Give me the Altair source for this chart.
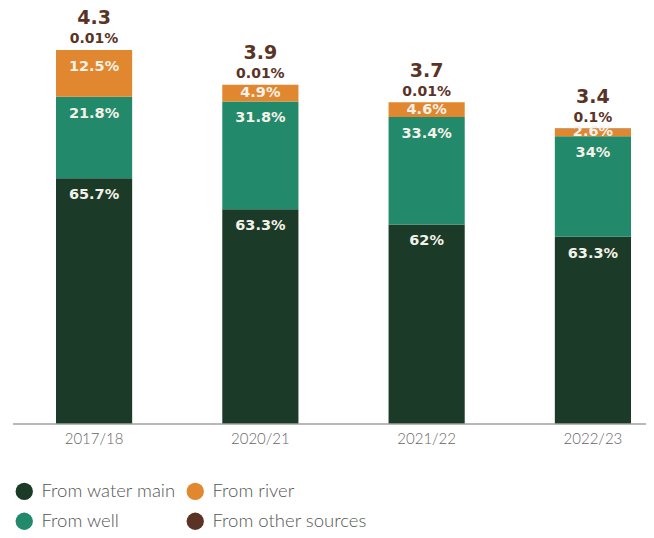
import altair as alt
import pandas as pd

years = ["2017/18", "2020/21", "2021/22", "2022/23"]
totals = [4.3, 3.9, 3.7, 3.4]
pct_water_main = [65.7, 63.3, 62, 63.3]
pct_well = [21.8, 31.8, 33.4, 34]
pct_river = [12.5, 4.9, 4.6, 2.6]
pct_other = [0.01, 0.01, 0.01, 0.1]

sources = ["From water main", "From well", "From river", "From other sources"]
color_map = {
    "From water main": "#1b3a28",
    "From well": "#23896b",
    "From river": "#e1872f",
    "From other sources": "#5b3326",
}

rows = []
for i, yr in enumerate(years):
    bottom = 0.0
    for k, (s, pcts) in enumerate(zip(sources, [pct_water_main, pct_well, pct_river, pct_other])):
        v = totals[i] * pcts[i] / 100
        rows.append(dict(year=yr, source=s, order=k, bottom=bottom, top=bottom + v,
                         label=f"{pcts[i]:g}%", total=f"{totals[i]:g}"))
        bottom += v
df = pd.DataFrame(rows)

Y_MAX = 4.7254
x_scale = alt.Scale(domain=years, range=[43, 618], paddingInner=0.542, paddingOuter=0)
y_scale = alt.Scale(domain=[0, Y_MAX], nice=False, zero=True)

base = alt.Chart(df)

bars = base.mark_bar(opacity=1).encode(
    x=alt.X("year:N", scale=x_scale, sort=years, axis=alt.Axis(title=None)),
    y=alt.Y("bottom:Q", scale=y_scale, axis=None),
    y2="top:Q",
    color=alt.Color("source:N",
                    scale=alt.Scale(domain=sources, range=[color_map[s] for s in sources]),
                    legend=alt.Legend(orient="none", legendX=2, legendY=469, columns=2,
                                      title=None, symbolType="circle", symbolSize=300,
                                      symbolStrokeWidth=0, symbolOpacity=1,
                                      labelFont="Lato", labelFontSize=18.5, labelFontWeight=300,
                                      labelColor="#555555", labelOffset=8,
                                      columnPadding=10, rowPadding=11, padding=0)),
    order="order:Q",
)

inner = base.transform_filter(
    "datum.source != 'From other sources'"
).transform_calculate(
    ly="max(datum.top - 0.195, (datum.top + datum.bottom) / 2)"
).mark_text(font="DejaVu Sans", fontWeight="bold", fontSize=14.5, color="#f4f1e8",
            baseline="middle", align="center").encode(
    x=alt.X("year:N", scale=x_scale, sort=years, axis=alt.Axis(title=None)),
    y=alt.Y("ly:Q", scale=y_scale, axis=None),
    text="label:N",
)

other = base.transform_filter("datum.source == 'From other sources'")

other_lbl = other.mark_text(font="DejaVu Sans", fontWeight="bold", fontSize=14,
                            color="#5b3326", baseline="middle", align="center", dy=-10.5).encode(
    x=alt.X("year:N", scale=x_scale, sort=years, axis=alt.Axis(title=None)),
    y=alt.Y("top:Q", scale=y_scale, axis=None),
    text="label:N",
)

total_lbl = other.mark_text(font="DejaVu Sans", fontWeight="bold", fontSize=19,
                            color="#5b3326", baseline="middle", align="center", dy=-31.5).encode(
    x=alt.X("year:N", scale=x_scale, sort=years, axis=alt.Axis(title=None)),
    y=alt.Y("top:Q", scale=y_scale, axis=None),
    text="total:N",
)

baseline_rule = alt.Chart(pd.DataFrame({"v": [0]})).mark_rule(color="#a0a0a0", strokeWidth=1.6).encode(
    y=alt.Y("v:Q", scale=y_scale, axis=None),
    x=alt.value(0),
    x2=alt.value(633),
)

chart = alt.layer(bars, baseline_rule, inner, other_lbl, total_lbl).properties(
    width=633, height=411,
    autosize=alt.AutoSizeParams(type="none"),
    padding={"left": 5, "top": 5, "right": 0, "bottom": 106},
).configure_view(stroke=None).configure_axisX(
    domain=False, ticks=False, labelAngle=0, labelFont="Lato", labelFontSize=15,
    labelFontWeight=300, labelColor="#666666", labelPadding=7, grid=False,
)

chart.save("out.html", embed_options={"renderer": "svg", "actions": False})
